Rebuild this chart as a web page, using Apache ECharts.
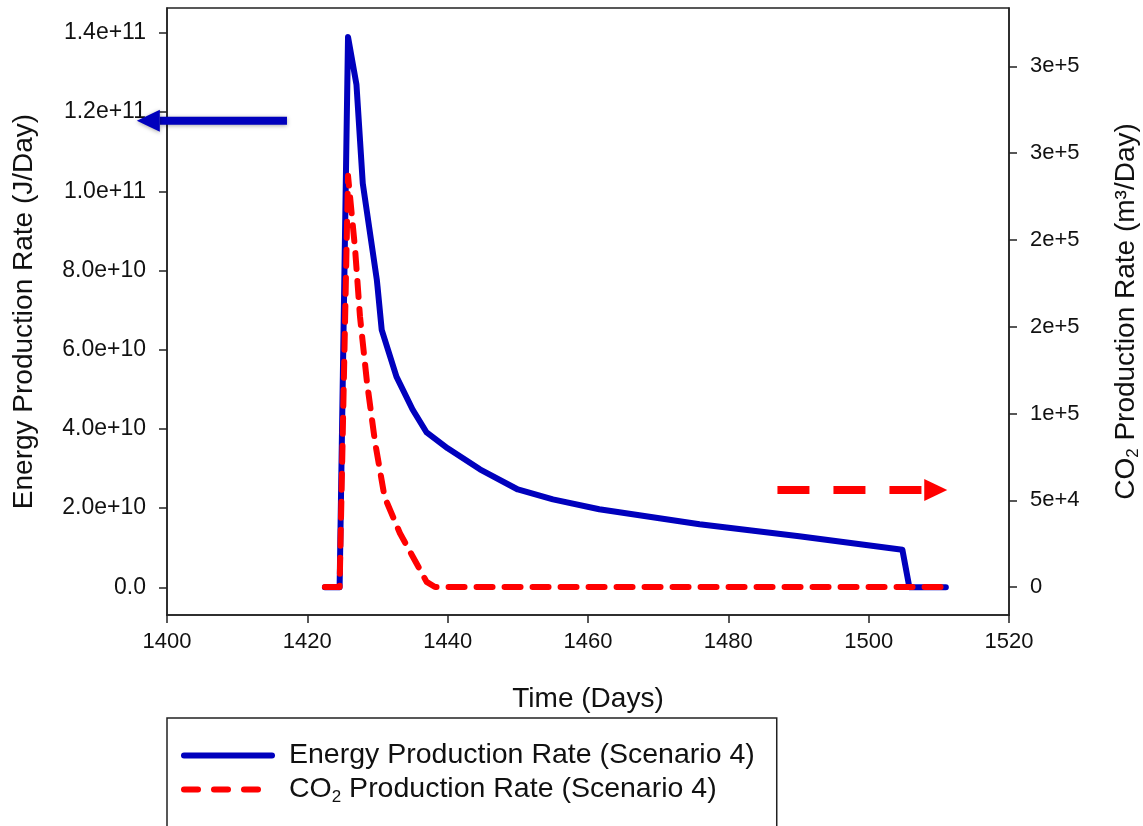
<!DOCTYPE html>
<html>
<head>
<meta charset="utf-8">
<script src="https://cdn.jsdelivr.net/npm/echarts@6/dist/echarts.min.js"></script>
<style>
  html, body { margin: 0; padding: 0; background: #fff; }
  #chart { width: 1143px; height: 826px; }
</style>
</head>
<body>
<div id="chart"></div>
<script>
// values
const energyDays = [1422.5, 1424.6, 1425.8, 1427.0, 1427.9, 1429.9, 1430.0, 1430.6, 1432.7, 1435.0, 1437.0, 1440.0, 1444.6, 1450.0, 1455.0, 1461.6, 1475.9, 1490.1, 1504.8, 1505.8, 1511.0];
const energyRate = [0, 0, 1.39e11, 1.27e11, 1.02e11, 7.77e10, 7.6e10, 6.5e10, 5.32e10, 4.49e10, 3.91e10, 3.51e10, 2.98e10, 2.47e10, 2.22e10, 1.97e10, 1.59e10, 1.29e10, 0.95e10, 0, 0];
const co2Days = [1422.5, 1424.6, 1425.8, 1426.8, 1427.5, 1428.5, 1429.6, 1429.8, 1431.0, 1433.2, 1434.9, 1437.0, 1438.2, 1511.0];
const co2Rate = [0, 0, 2.37e5, 1.95e5, 1.56e5, 1.18e5, 8.5e4, 8.0e4, 5.2e4, 3.1e4, 1.85e4, 3e3, 0, 0];

const energyTicks = [0, 2e10, 4e10, 6e10, 8e10, 1e11, 1.2e11, 1.4e11];
const co2Ticks = [0, 5e4, 1e5, 1.5e5, 2e5, 2.5e5, 3e5];

// annotation arrows: [tailX, tipX, y] in data units
const energyArrow = [1417.1, 1395.7, 1.178e11];
const co2Arrow = [1487.0, 1511.2, 5.59e4];

const BLUE = '#0000bd';
const RED = '#ff0000';
const FONT = '"Liberation Sans", Arial, sans-serif';

const zip = (xs, ys) => xs.map((x, i) => [x, ys[i]]);

const axisLine = { show: true, onZero: false, lineStyle: { color: '#222', width: 1.5 } };
const axisTick = { show: true, inside: false, length: 8, lineStyle: { color: '#222', width: 1.5 } };
const labelStyle = { color: '#111', fontSize: 22, fontFamily: FONT };
const nameStyle = { color: '#111', fontSize: 28, fontFamily: FONT };
const subRich = {
    a: { fontSize: 28, fontFamily: FONT, color: '#111', lineHeight: 32, verticalAlign: 'middle' },
    s: { fontSize: 17, fontFamily: FONT, color: '#111', lineHeight: 17, verticalAlign: 'bottom' }
};
const legendRich = {
    a: { fontSize: 28.5, fontFamily: FONT, color: '#111', lineHeight: 32, verticalAlign: 'middle' },
    s: { fontSize: 17, fontFamily: FONT, color: '#111', lineHeight: 17, verticalAlign: 'bottom' }
};

const chart = echarts.init(document.getElementById('chart'));
chart.setOption({
    animation: false,
    backgroundColor: '#fff',
    grid: {
        left: 167, right: 134, top: 8, bottom: 211,
        outerBoundsMode: 'none',
        show: true, borderColor: '#222', borderWidth: 1.5
    },
    xAxis: {
        type: 'value',
        min: 1400, max: 1520, interval: 20,
        name: 'Time (Days)',
        nameLocation: 'middle',
        nameGap: 70,
        nameTextStyle: nameStyle,
        axisLine, axisTick,
        axisLabel: Object.assign({ margin: 16, formatter: v => String(v) }, labelStyle),
        splitLine: { show: false }
    },
    yAxis: [{
        type: 'value',
        min: -7.0e9, max: 1.463e11,
        name: 'Energy Production Rate (J/Day)',
        nameLocation: 'middle',
        nameRotate: 90,
        nameGap: 129,
        nameTextStyle: nameStyle,
        axisLine,
        axisTick: Object.assign({ customValues: energyTicks }, axisTick),
        axisLabel: Object.assign({
            margin: 21,
            customValues: energyTicks,
            formatter: v => v === 0 ? '0.0' : v.toExponential(1)
        }, labelStyle, { fontSize: 23 }),
        splitLine: { show: false }
    }, {
        type: 'value',
        position: 'right',
        min: -1.61e4, max: 3.336e5,
        name: '{a|CO}{s|2}{a| Production Rate (m³/Day)}',
        nameLocation: 'middle',
        nameRotate: 90,
        nameGap: 101,
        nameTextStyle: Object.assign({ rich: subRich }, nameStyle),
        axisLine,
        axisTick: Object.assign({ customValues: co2Ticks }, axisTick),
        axisLabel: Object.assign({
            margin: 21,
            customValues: co2Ticks,
            formatter: v => v === 0 ? '0' : v.toExponential(0)
        }, labelStyle),
        splitLine: { show: false }
    }],
    legend: {
        orient: 'vertical',
        left: 167, top: 718, height: 90,
        padding: [23, 22, 60, 14],
        borderColor: '#222', borderWidth: 1.5,
        itemWidth: 88, itemHeight: 14, itemGap: 5,
        itemStyle: { opacity: 0 },
        lineStyle: { width: 6, cap: 'round' },
        data: [
            { name: 'Energy Production Rate (Scenario 4)' },
            { name: 'CO2 Production Rate (Scenario 4)', lineStyle: { type: [14, 16] } }
        ],
        formatter: n => n.startsWith('CO2')
            ? '{a|CO}{s|2}{a| Production Rate (Scenario 4)}'
            : '{a|' + n + '}',
        textStyle: { padding: [0, 0, 0, 12], rich: legendRich }
    },
    series: [{
        name: 'Energy Production Rate (Scenario 4)',
        type: 'line',
        yAxisIndex: 0,
        symbol: 'none',
        data: zip(energyDays, energyRate),
        lineStyle: { color: BLUE, width: 6, cap: 'round', join: 'round' },
        itemStyle: { color: BLUE },
        z: 2
    }, {
        name: 'CO2 Production Rate (Scenario 4)',
        type: 'line',
        yAxisIndex: 1,
        symbol: 'none',
        data: zip(co2Days, co2Rate),
        lineStyle: { color: RED, width: 6, type: [16, 12], cap: 'round', join: 'round' },
        itemStyle: { color: RED },
        z: 3
    }]
});

// annotation arrows placed through the axes
function arrow(spec, yAxisIndex, color, dashed) {
    const tail = chart.convertToPixel({ xAxisIndex: 0, yAxisIndex }, [spec[0], spec[2]]);
    const tip = chart.convertToPixel({ xAxisIndex: 0, yAxisIndex }, [spec[1], spec[2]]);
    const dir = tip[0] < tail[0] ? -1 : 1;
    const headLen = 23, headH = 11;
    const base = tip[0] - dir * headLen;
    const shadow = dashed ? {} : { shadowBlur: 4, shadowColor: 'rgba(0,0,0,0.35)', shadowOffsetY: 1 };
    return [{
        type: 'line',
        shape: { x1: tail[0], y1: tail[1], x2: base, y2: tip[1] },
        style: Object.assign({ stroke: color, lineWidth: 8, lineDash: dashed ? [32, 24] : null }, shadow),
        z: 10
    }, {
        type: 'polygon',
        shape: { points: [[tip[0], tip[1]], [base, tip[1] - headH], [base, tip[1] + headH]] },
        style: Object.assign({ fill: color }, shadow),
        z: 10
    }];
}
chart.setOption({
    graphic: arrow(energyArrow, 0, BLUE, false).concat(arrow(co2Arrow, 1, RED, true))
});
</script>
</body>
</html>
